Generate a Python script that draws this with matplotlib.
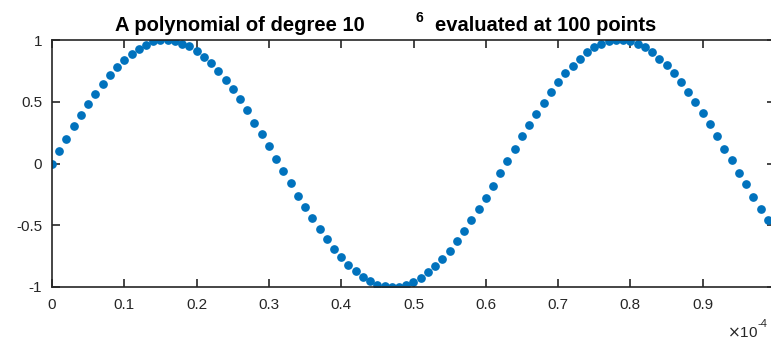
import matplotlib
matplotlib.use("Agg")
import matplotlib.pyplot as plt
from matplotlib.ticker import FuncFormatter
import numpy as np

plt.rcParams['font.family'] = ['Liberation Sans', 'DejaVu Sans']

# 100 sample points, spacing 1e-6
x = np.arange(100) * 1e-6
y = [0.00, 0.10, 0.20, 0.30, 0.39, 0.48, 0.56, 0.64, 0.72, 0.78,
     0.84, 0.89, 0.93, 0.96, 0.99, 1.00, 1.00, 0.99, 0.97, 0.95,
     0.91, 0.86, 0.81, 0.75, 0.68, 0.60, 0.52, 0.43, 0.33, 0.24,
     0.14, 0.04, -0.06, -0.16, -0.26, -0.35, -0.44, -0.53, -0.61, -0.69,
     -0.76, -0.82, -0.87, -0.92, -0.95, -0.98, -0.99, -1.00, -1.00, -0.98,
     -0.96, -0.93, -0.88, -0.83, -0.77, -0.71, -0.63, -0.55, -0.46, -0.37,
     -0.28, -0.18, -0.08, 0.02, 0.12, 0.22, 0.31, 0.40, 0.49, 0.58,
     0.66, 0.73, 0.79, 0.85, 0.90, 0.94, 0.97, 0.99, 1.00, 1.00,
     0.99, 0.97, 0.94, 0.90, 0.85, 0.80, 0.73, 0.66, 0.58, 0.50,
     0.41, 0.32, 0.22, 0.12, 0.03, -0.08, -0.17, -0.27, -0.37, -0.46]

xticks = np.arange(11) * 1e-5
yticks = [-1, -0.5, 0, 0.5, 1]

W, H = 771, 341
fig = plt.figure(figsize=(W / 100, H / 100), dpi=100)
# axes run slightly past the right edge of the figure
ax = fig.add_axes([52 / W, 1 - 287 / H, (775 - 52) / W, (287 - 40) / H])

ax.plot(x, y, '.', color='#0072BD', markersize=10.5)

ax.set_xlim(0, 1e-4)
ax.set_ylim(-1, 1)
ax.set_xticks(xticks)
ax.set_yticks(yticks)
ax.xaxis.set_major_formatter(FuncFormatter(lambda v, p: '%g' % round(v * 1e4, 3)))
ax.yaxis.set_major_formatter(FuncFormatter(lambda v, p: '%g' % v))

dark = '#262626'
for s in ax.spines.values():
    s.set_color(dark)
    s.set_linewidth(1.2)
ax.tick_params(direction='in', length=5.5, width=1.2, color=dark,
               labelcolor=dark, labelsize=11, top=True, right=True)
ax.tick_params(axis='x', pad=8)
ax.tick_params(axis='y', pad=7)

# title pieces
fig.text(115 / W, 1 - 31 / H, 'A polynomial of degree 10', fontsize=14.5,
         fontweight='bold', ha='left', va='baseline')
fig.text(416 / W, 1 - 22 / H, '6', fontsize=10, fontweight='bold',
         ha='left', va='baseline')
fig.text(435 / W, 1 - 31 / H, 'evaluated at 100 points', fontsize=14.5,
         fontweight='bold', ha='left', va='baseline')

# x multiplier
fig.text(727 / W, 1 - 337 / H, r'$\times$10', fontsize=11, color=dark,
         ha='left', va='baseline')
fig.text(758 / W, 1 - 327 / H, '-4', fontsize=8, color=dark,
         ha='left', va='baseline')

fig.savefig('out.png', dpi=100)
